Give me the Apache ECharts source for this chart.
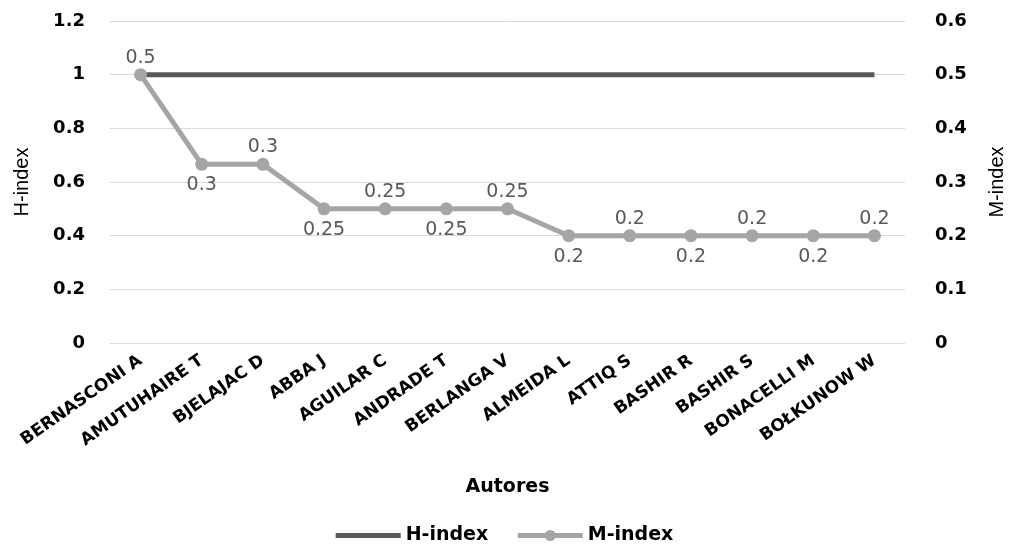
<!DOCTYPE html>
<html><head><meta charset="utf-8">
<script src="https://cdn.jsdelivr.net/npm/echarts@6/dist/echarts.min.js"></script>
<style>html,body{margin:0;padding:0;background:#fff}#c{width:1009px;height:550px}</style>
</head><body><div id="c"></div>
<script>
const categories = ['BERNASCONI A','AMUTUHAIRE T','BJELAJAC D','ABBA J','AGUILAR C','ANDRADE T','BERLANGA V','ALMEIDA L','ATTIQ S','BASHIR R','BASHIR S','BONACELLI M','BOŁKUNOW W'];
const hIndex = [1,1,1,1,1,1,1,1,1,1,1,1,1];
const mIndex = [0.5,0.333,0.333,0.25,0.25,0.25,0.25,0.2,0.2,0.2,0.2,0.2,0.2];
const mLabels = ['0.5','0.3','0.3','0.25','0.25','0.25','0.25','0.2','0.2','0.2','0.2','0.2','0.2'];
const leftTicks = [0,0.2,0.4,0.6,0.8,1,1.2];
const rightTicks = [0,0.1,0.2,0.3,0.4,0.5,0.6];

const chart = echarts.init(document.getElementById('c'));
const tickStyle = {color:'#000', fontWeight:'bold', fontSize:18, fontFamily:'DejaVu Sans'};
const pick = (arr)=> v => { const i = arr.findIndex(t=>Math.abs(t-v)<1e-9); return i>=0 ? String(arr[i]) : ''; };
chart.setOption({
  animation:false,
  grid:{left:110, right:104, top:21, bottom:207, containLabel:false, outerBoundsMode:'none'},
  legend:{
    bottom:0, left:'center', itemWidth:65, itemHeight:14, itemGap:27,
    lineStyle:{width:5},
    textStyle:{color:'#000', fontWeight:'bold', fontSize:19, fontFamily:'DejaVu Sans'},
    data:[{name:'H-index', icon:'path://M0,0L100,0L100,8L0,8Z'},{name:'M-index'}]
  },
  xAxis:{
    type:'category', data:categories, boundaryGap:true,
    name:'Autores', nameLocation:'middle', nameGap:135,
    nameTextStyle:{color:'#000', fontWeight:'bold', fontSize:19, fontFamily:'DejaVu Sans'},
    axisLine:{show:false}, axisTick:{show:false},
    axisLabel:{interval:0, rotate:35, color:'#000', fontWeight:'bold', fontSize:17, fontFamily:'DejaVu Sans', margin:16}
  },
  yAxis:[{
    type:'value', min:0, max:1.2, interval:0.2,
    name:'H-index', nameLocation:'middle', nameGap:78, nameRotate:90,
    nameTextStyle:{color:'#000', fontSize:20, fontFamily:'Liberation Sans'},
    axisLabel:Object.assign({margin:25, formatter:pick(leftTicks)}, tickStyle),
    axisLine:{show:false}, axisTick:{show:false},
    splitLine:{lineStyle:{color:'#d9d9d9', width:1}}
  },{
    type:'value', min:0, max:0.6, interval:0.1,
    name:'M-index', nameLocation:'middle', nameGap:82, nameRotate:90,
    nameTextStyle:{color:'#000', fontSize:20, fontFamily:'Liberation Sans'},
    axisLabel:Object.assign({margin:30, formatter:pick(rightTicks)}, tickStyle),
    axisLine:{show:false}, axisTick:{show:false},
    splitLine:{show:false}
  }],
  series:[{
    name:'H-index', type:'line', yAxisIndex:0, data:hIndex,
    showSymbol:false, symbol:'none',
    lineStyle:{color:'#595959', width:5}, itemStyle:{color:'#595959'}, z:2
  },{
    name:'M-index', type:'line', yAxisIndex:1,
    data:mIndex.map((v,i)=>({value:v, label: i%2===0 ? {position:'top', distance:1} : {position:'bottom', distance:5}})),
    symbol:'circle', symbolSize:13,
    lineStyle:{color:'#a5a5a5', width:5}, itemStyle:{color:'#a5a5a5'}, z:3,
    label:{show:true, color:'#595959', fontSize:19, fontFamily:'DejaVu Sans', formatter:p=>mLabels[p.dataIndex]}
  }]
});
</script></body></html>
